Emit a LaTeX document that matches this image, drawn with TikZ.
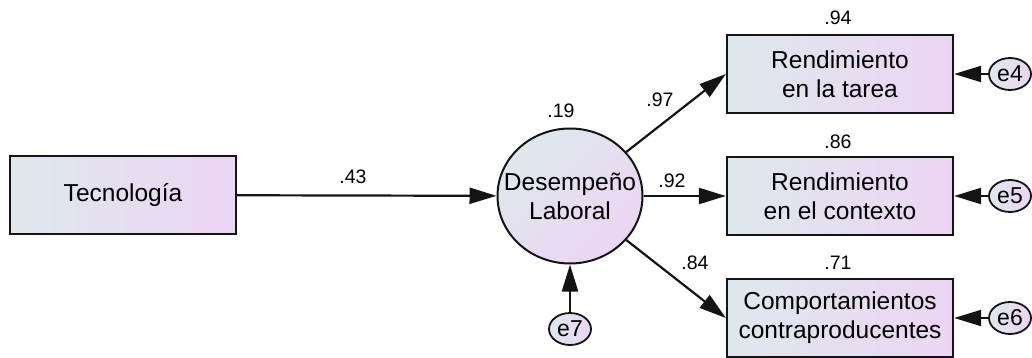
\documentclass[tikz,border=0pt]{standalone}
\usepackage{fontspec}
\setmainfont{Liberation Sans}
\usetikzlibrary{shapes.geometric,arrows.meta}
\definecolor{gl}{RGB}{222,232,237}
\definecolor{gr}{RGB}{236,213,243}
\definecolor{ink}{RGB}{20,20,20}
\tikzset{
  obs/.style={draw=ink,line width=2.2pt,rectangle,minimum width=226pt,minimum height=78pt,
    left color=gl,right color=gr,align=center,inner sep=0pt,
    font=\fontsize{24.5}{29}\selectfont},
  lat/.style={draw=ink,line width=2pt,ellipse,minimum width=145pt,minimum height=135pt,
    shading=axis,left color=gl,right color=gr,shading angle=45,inner sep=0pt},
  lattext/.style={align=center,inner sep=0pt,font=\fontsize{24.5}{29}\selectfont},
  err/.style={draw=ink,line width=1.8pt,ellipse,minimum width=42pt,minimum height=32pt,
    left color=gl,right color=gr,inner sep=0pt,font=\fontsize{23}{26}\selectfont},
  num/.style={font=\fontsize{19.5}{22}\selectfont,inner sep=0pt},
  arr/.style={draw=ink,line width=2.2pt,-{Triangle[length=27pt,width=16pt]}}
}
\begin{document}
\begin{tikzpicture}[x=1pt,y=-1pt]
\useasboundingbox (0,0) rectangle (1032,358);
\node[obs] (tec) at (123,195) {Tecnología};
\node[lat] (dl) at (570,196) {};
\node[lattext] (dlt) at (570,196) {Desempeño\\Laboral};
\node[obs] (r1) at (840,74) {Rendimiento\\en la tarea};
\node[obs] (r2) at (840,196) {Rendimiento\\en el contexto};
\node[obs] (r3) at (840,318) {Comportamientos\\contraproducentes};
\node[err] (e4) at (1010,74) {e4};
\node[err] (e5) at (1010,196) {e5};
\node[err] (e6) at (1010,318) {e6};
\node[err] (e7) at (570,329) {e7};
\draw[arr] (tec) -- (dl);
\draw[arr] (dl) -- (r1.west);
\draw[arr] (dl) -- (r2.west);
\draw[arr] (dl) -- (r3.west);
\draw[arr] (e4) -- (r1);
\draw[arr] (e5) -- (r2);
\draw[arr] (e6) -- (r3);
\draw[arr] (e7) -- (dl);
\node[num] (n43) at (353,177) {.43};
\node[num] (n19) at (561,111) {.19};
\node[num] (n97) at (660,100) {.97};
\node[num] (n92) at (672,181) {.92};
\node[num] (n84) at (695,263) {.84};
\node[num] (n94) at (838,18) {.94};
\node[num] (n86) at (838,142) {.86};
\node[num] (n71) at (838,263) {.71};
\end{tikzpicture}
\end{document}
